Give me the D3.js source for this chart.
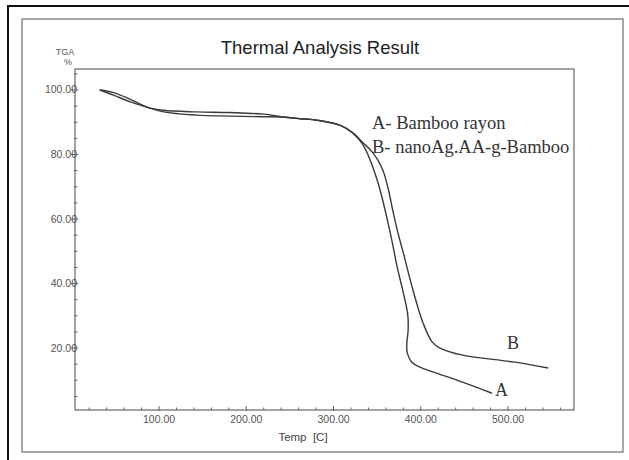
<!DOCTYPE html>
<html>
<head>
<meta charset="utf-8">
<script src="https://cdnjs.cloudflare.com/ajax/libs/d3/7.8.5/d3.min.js"></script>
<style>
    body { margin: 0; background: #fff; }
    svg { display: block; }
</style>
</head>
<body>
<div class="data_figure"></div>
<script>
// TGA curves: temperature [C] and weight %
const tempA = [32, 48, 67, 86, 105, 143, 181, 220, 242, 262, 276, 307, 322, 334,
               350, 365, 373, 380, 385, 385.5, 384, 384.5, 389.5, 399, 414, 447, 481.6];
const tgaA  = [100, 98.4, 96.3, 94.7, 93.2, 92.2, 91.9, 91.7, 91.6, 91.1, 90.8, 89.1, 86.7, 82.9,
               72.1, 55.7, 45.1, 37.1, 30.5, 25.5, 21.5, 18.5, 15.7, 14.1, 12.6, 9.5, 6.0];

const tempB = [32, 48, 67, 86, 105, 143, 181, 220, 242, 262, 276, 307, 322, 334,
               344, 351, 357, 363, 368, 374, 380, 391, 402.6, 413, 422, 448, 506, 546];
const tgaB  = [100, 99.2, 97.1, 94.7, 93.7, 93.2, 93.0, 92.5, 91.6, 91.1, 90.8, 89.1, 86.7, 83.6,
               80.9, 78.2, 74.8, 69.0, 62.5, 55.5, 49.5, 38.0, 27.8, 21.9, 20.0, 17.8, 15.7, 13.8];

const xTicks = [100, 200, 300, 400, 500];
const yTicks = [20, 40, 60, 80, 100];
const xMinor = d3.range(20, 580, 20);
const yMinor = d3.range(5, 106, 5);

const width = 629,
      height = 460;
const plotL = 75, plotR = 574, plotT = 69, plotB = 410;

const xScale = d3.scaleLinear().domain([3.7, 575.6]).range([plotL, plotR]);
const yScale = d3.scaleLinear().domain([0.8, 106.5]).range([plotB, plotT]);

const svg = d3.select(".data_figure")
    .append("svg")
    .attr("width", width)
    .attr("height", height);

svg.append("rect").attr("width", width).attr("height", height).attr("fill", "#fff");

// outer frame: black on top and left, grey box inside
svg.append("path")
    .attr("d", "M8," + height + "V6H" + width)
    .attr("fill", "none")
    .attr("stroke", "#111")
    .attr("stroke-width", 2);

svg.append("rect")
    .attr("x", 22).attr("y", 19)
    .attr("width", 601).attr("height", 433)
    .attr("fill", "none")
    .attr("stroke", "#8a8a8a")
    .attr("stroke-width", 1.5);

// plot box
svg.append("rect")
    .attr("x", plotL).attr("y", plotT)
    .attr("width", plotR - plotL).attr("height", plotB - plotT)
    .attr("fill", "none")
    .attr("stroke", "#666")
    .attr("stroke-width", 1.2);

// x axis ticks pointing inward
const xAxis = svg.append("g").attr("id", "x-axis");
xAxis.selectAll("line.minor")
    .data(xMinor.filter((d) => d % 100 !== 0))
    .enter()
    .append("line")
    .attr("class", "minor")
    .attr("x1", (d) => xScale(d)).attr("x2", (d) => xScale(d))
    .attr("y1", plotB).attr("y2", plotB - 2.5)
    .attr("stroke", "#666");
xAxis.selectAll("line.major")
    .data(xTicks)
    .enter()
    .append("line")
    .attr("class", "major")
    .attr("x1", (d) => xScale(d)).attr("x2", (d) => xScale(d))
    .attr("y1", plotB + 1).attr("y2", plotB - 4)
    .attr("stroke", "#666");
xAxis.selectAll("text")
    .data(xTicks)
    .enter()
    .append("text")
    .attr("x", (d) => xScale(d))
    .attr("y", plotB + 13)
    .attr("text-anchor", "middle")
    .attr("font-family", "Arial, 'Liberation Sans', sans-serif")
    .attr("font-size", 10.5)
    .attr("fill", "#555")
    .text((d) => d.toFixed(2));

// y axis
const yAxis = svg.append("g").attr("id", "y-axis");
yAxis.selectAll("line.minor")
    .data(yMinor.filter((d) => d % 20 !== 0))
    .enter()
    .append("line")
    .attr("class", "minor")
    .attr("x1", plotL - 1).attr("x2", plotL + 2.5)
    .attr("y1", (d) => yScale(d)).attr("y2", (d) => yScale(d))
    .attr("stroke", "#666");
yAxis.selectAll("line.major")
    .data(yTicks)
    .enter()
    .append("line")
    .attr("class", "major")
    .attr("x1", plotL - 4).attr("x2", plotL + 3)
    .attr("y1", (d) => yScale(d)).attr("y2", (d) => yScale(d))
    .attr("stroke", "#666");
yAxis.selectAll("text")
    .data(yTicks)
    .enter()
    .append("text")
    .attr("x", plotL + 2)
    .attr("y", (d) => yScale(d) + 3.5)
    .attr("text-anchor", "end")
    .attr("font-family", "Arial, 'Liberation Sans', sans-serif")
    .attr("font-size", 10.5)
    .attr("fill", "#555")
    .text((d) => d.toFixed(2));

// axis titles
svg.append("text")
    .text("TGA")
    .attr("x", 65).attr("y", 55)
    .attr("text-anchor", "middle")
    .attr("font-family", "Arial, 'Liberation Sans', sans-serif")
    .attr("font-size", 9)
    .attr("fill", "#555");
svg.append("text")
    .text("%")
    .attr("x", 68).attr("y", 65)
    .attr("text-anchor", "middle")
    .attr("font-family", "Arial, 'Liberation Sans', sans-serif")
    .attr("font-size", 9)
    .attr("fill", "#555");
svg.append("text")
    .text("Temp  [C]")
    .attr("x", 303).attr("y", 441)
    .attr("text-anchor", "middle")
    .attr("xml:space", "preserve")
    .style("white-space", "pre")
    .attr("font-family", "Arial, 'Liberation Sans', sans-serif")
    .attr("font-size", 11.5)
    .attr("fill", "#444");

svg.append("text")
    .text("Thermal Analysis Result")
    .attr("x", 320).attr("y", 54)
    .attr("text-anchor", "middle")
    .attr("font-family", "Arial, 'Liberation Sans', sans-serif")
    .attr("font-size", 18.5)
    .attr("fill", "#222");

// curves
const line = d3.line()
    .x((d) => xScale(d[0]))
    .y((d) => yScale(d[1]))
    .curve(d3.curveCatmullRom.alpha(0.5));

const series = [
    tempA.map((t, i) => [t, tgaA[i]]),
    tempB.map((t, i) => [t, tgaB[i]])
];

svg.selectAll("path.curve")
    .data(series)
    .enter()
    .append("path")
    .attr("class", "curve")
    .attr("d", line)
    .attr("fill", "none")
    .attr("stroke", "#3a3a3a")
    .attr("stroke-width", 1.4);

// annotations
const serif = "'Times New Roman', 'Liberation Serif', serif";
svg.append("text").text("A- Bamboo rayon")
    .attr("x", 372).attr("y", 129)
    .attr("font-family", serif).attr("font-size", 18.5).attr("fill", "#333");
svg.append("text").text("B- nanoAg.AA-g-Bamboo")
    .attr("x", 372).attr("y", 153)
    .attr("font-family", serif).attr("font-size", 18.5).attr("fill", "#333");
svg.append("text").text("B")
    .attr("x", 507).attr("y", 349)
    .attr("font-family", serif).attr("font-size", 18).attr("fill", "#333");
svg.append("text").text("A")
    .attr("x", 495).attr("y", 396)
    .attr("font-family", serif).attr("font-size", 18).attr("fill", "#333");
</script>
</body>
</html>
